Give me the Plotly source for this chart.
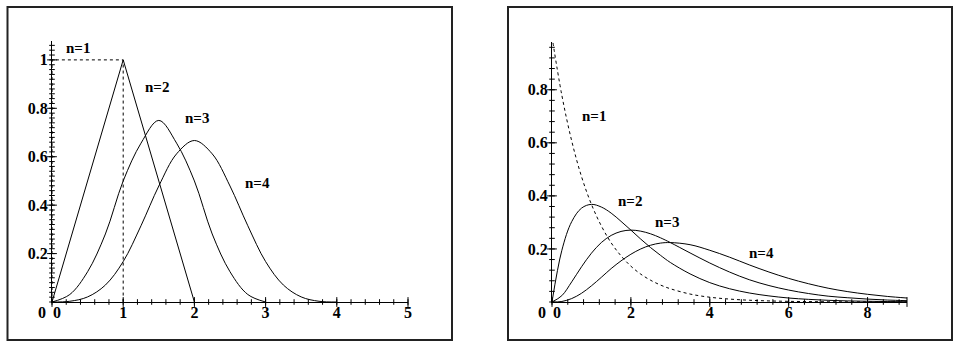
import numpy as np
import plotly.graph_objects as go

# ---------------- data ----------------
# Left panel: density of sum of n uniform(0,1) variables
L1_x = [0, 0, 1, 1]
L1_y = [0, 1, 1, 0]
L2_x = [0, 1, 2]
L2_y = [0, 1, 0]
L3_x = [0, 0.25, 0.5, 0.75, 1, 1.25, 1.5, 1.75, 2, 2.25, 2.5, 2.75, 3]
L3_y = [0, 0.031, 0.125, 0.281, 0.5, 0.656, 0.75, 0.656, 0.5, 0.281, 0.125, 0.031, 0]
L4_x = [0, 0.25, 0.5, 0.75, 1, 1.25, 1.5, 1.75, 2, 2.25, 2.5, 2.75, 3, 3.25, 3.5, 3.75, 4]
L4_y = [0, 0.003, 0.021, 0.070, 0.167, 0.315, 0.479, 0.612, 0.667, 0.612, 0.479, 0.315,
        0.167, 0.070, 0.021, 0.003, 0]

# Right panel: gamma (Erlang) densities
R_x = [0, 0.25, 0.5, 0.75, 1, 1.25, 1.5, 1.75, 2, 2.25, 2.5, 2.75, 3, 3.5, 4, 4.5, 5,
       5.5, 6, 6.5, 7, 7.5, 8, 8.5, 9]
R1_y = [1.0, 0.779, 0.607, 0.472, 0.368, 0.287, 0.223, 0.174, 0.135, 0.105, 0.082, 0.064,
        0.050, 0.030, 0.018, 0.011, 0.0067, 0.0041, 0.0025, 0.0015, 0.0009, 0.0006,
        0.0003, 0.0002, 0.0001]
R2_y = [0, 0.195, 0.303, 0.354, 0.368, 0.358, 0.335, 0.304, 0.271, 0.237, 0.205, 0.176,
        0.149, 0.106, 0.073, 0.050, 0.034, 0.023, 0.015, 0.010, 0.0064, 0.0041, 0.0027,
        0.0017, 0.0011]
R3_y = [0, 0.024, 0.076, 0.133, 0.184, 0.224, 0.251, 0.266, 0.271, 0.267, 0.257, 0.242,
        0.224, 0.185, 0.147, 0.113, 0.084, 0.062, 0.045, 0.032, 0.022, 0.016, 0.011,
        0.0074, 0.0050]
R4_y = [0, 0.002, 0.013, 0.033, 0.061, 0.093, 0.126, 0.155, 0.180, 0.200, 0.214, 0.222,
        0.224, 0.216, 0.195, 0.169, 0.140, 0.113, 0.089, 0.069, 0.052, 0.039, 0.029,
        0.021, 0.015]

L_labels = ["n=1", "n=2", "n=3", "n=4"]
L_label_x = [0.37, 1.47, 2.04, 2.89]
L_label_y = [1.05, 0.89, 0.76, 0.49]
R_labels = ["n=1", "n=2", "n=3", "n=4"]
R_label_x = [1.07, 1.98, 2.92, 5.32]
R_label_y = [0.70, 0.38, 0.30, 0.185]

L_xticks = [1, 2, 3, 4, 5]
L_yticks = [0.2, 0.4, 0.6, 0.8, 1]
R_xticks = [2, 4, 6, 8]
R_yticks = [0.2, 0.4, 0.6, 0.8]

# ---------------- figure ----------------
FONT = "Liberation Serif, Times New Roman, serif"
fig = go.Figure()
line = dict(color="black", width=1)
dot = dict(color="black", width=1, dash="dot")

fig.add_trace(go.Scatter(x=L1_x, y=L1_y, mode="lines", line=dot, xaxis="x", yaxis="y"))
fig.add_trace(go.Scatter(x=L2_x, y=L2_y, mode="lines", line=line, xaxis="x", yaxis="y"))
fig.add_trace(go.Scatter(x=L3_x, y=L3_y, mode="lines", line=line, line_shape="spline",
                         xaxis="x", yaxis="y"))
fig.add_trace(go.Scatter(x=L4_x, y=L4_y, mode="lines", line=line, line_shape="spline",
                         xaxis="x", yaxis="y"))

fig.add_trace(go.Scatter(x=R_x, y=R1_y, mode="lines", line=dot, line_shape="spline",
                         xaxis="x2", yaxis="y2"))
for ys in (R2_y, R3_y, R4_y):
    fig.add_trace(go.Scatter(x=R_x, y=ys, mode="lines", line=line, line_shape="spline",
                             xaxis="x2", yaxis="y2"))

# crossing tick marks (Maple style)
def tick_marks(xa, ya, major_x, minor_x, major_y, minor_y):
    mk = lambda sym, size: dict(symbol=sym, size=size, color="black",
                                line=dict(color="black", width=1))
    fig.add_trace(go.Scatter(x=minor_x, y=[0] * len(minor_x), mode="markers",
                             marker=mk("line-ns", 4), xaxis=xa, yaxis=ya, cliponaxis=False))
    fig.add_trace(go.Scatter(x=major_x, y=[0] * len(major_x), mode="markers",
                             marker=mk("line-ns", 7), xaxis=xa, yaxis=ya, cliponaxis=False))
    fig.add_trace(go.Scatter(x=[0] * len(minor_y), y=minor_y, mode="markers",
                             marker=mk("line-ew", 4), xaxis=xa, yaxis=ya, cliponaxis=False))
    fig.add_trace(go.Scatter(x=[0] * len(major_y), y=major_y, mode="markers",
                             marker=mk("line-ew", 7), xaxis=xa, yaxis=ya, cliponaxis=False))

tick_marks("x", "y", [0] + L_xticks, list(np.arange(0, 5.01, 0.2)),
           L_yticks, list(np.arange(0, 1.079, 0.02)))
tick_marks("x2", "y2", [0] + R_xticks + [9], list(np.arange(0, 9.01, 0.4)),
           R_yticks, list(np.arange(0, 0.975, 0.04)))

ann = []
for t, x, y in zip(L_labels, L_label_x, L_label_y):
    ann.append(dict(text="<b>%s</b>" % t, x=x, y=y, xref="x", yref="y", showarrow=False,
                    font=dict(family=FONT, size=15, color="black")))
for t, x, y in zip(R_labels, R_label_x, R_label_y):
    ann.append(dict(text="<b>%s</b>" % t, x=x, y=y, xref="x2", yref="y2", showarrow=False,
                    font=dict(family=FONT, size=15, color="black")))
# the two "0" labels at each origin (Maple style)
for xr, yr in (("x", "y"), ("x2", "y2")):
    ann.append(dict(text="<b>0</b>", x=0, y=0, xref=xr, yref=yr, showarrow=False,
                    xanchor="right", yanchor="top", xshift=-4, yshift=0,
                    font=dict(family=FONT, size=16, color="black")))
    ann.append(dict(text="<b>0</b>", x=0, y=0, xref=xr, yref=yr, showarrow=False,
                    xanchor="left", yanchor="top", xshift=-1, yshift=0,
                    font=dict(family=FONT, size=16, color="black")))
ann.append(dict(text="x", x=4.5, y=-0.05, xref="x2", yref="y2", showarrow=False,
                font=dict(family=FONT, size=10, color="black")))

tickfont = dict(family=FONT, size=16, color="black")
def xax(domain, rng, tv, anchor):
    return dict(domain=domain, range=rng, tickvals=tv, ticktext=["<b>%g</b>" % v for v in tv],
                showline=True, linecolor="black", linewidth=1, showgrid=False, zeroline=False,
                ticks="", tickfont=tickfont, anchor=anchor, fixedrange=True, automargin=False,
                ticklabelstandoff=-4)
def yax(domain, rng, tv, anchor):
    return dict(domain=domain, range=rng, tickvals=tv, ticktext=["<b>%g</b>" % v for v in tv],
                showline=True, linecolor="black", linewidth=1, showgrid=False, zeroline=False,
                ticks="", tickfont=tickfont, anchor=anchor, fixedrange=True, automargin=False)

W, H = 960, 352
fig.update_layout(
    template="none",
    width=W, height=H, autosize=False, margin=dict(l=0, r=0, t=0, b=0, pad=0),
    paper_bgcolor="white", plot_bgcolor="white", showlegend=False,
    xaxis=xax([52 / W, 408 / W], [0, 5], L_xticks, "y"),
    yaxis=yax([50 / H, 311 / H], [0, 1.078], L_yticks, "x"),
    xaxis2=xax([552 / W, 907 / W], [0, 9], R_xticks, "y2"),
    yaxis2=yax([50 / H, 310 / H], [0, 0.98], R_yticks, "x2"),
    annotations=ann,
    shapes=[
        dict(type="rect", xref="paper", yref="paper", x0=7.5 / W, x1=452 / W,
             y0=12 / H, y1=345 / H, line=dict(color="#222", width=2)),
        dict(type="rect", xref="paper", yref="paper", x0=508 / W, x1=952 / W,
             y0=12 / H, y1=345 / H, line=dict(color="#222", width=2)),
    ],
)

fig.write_html("out.html")
